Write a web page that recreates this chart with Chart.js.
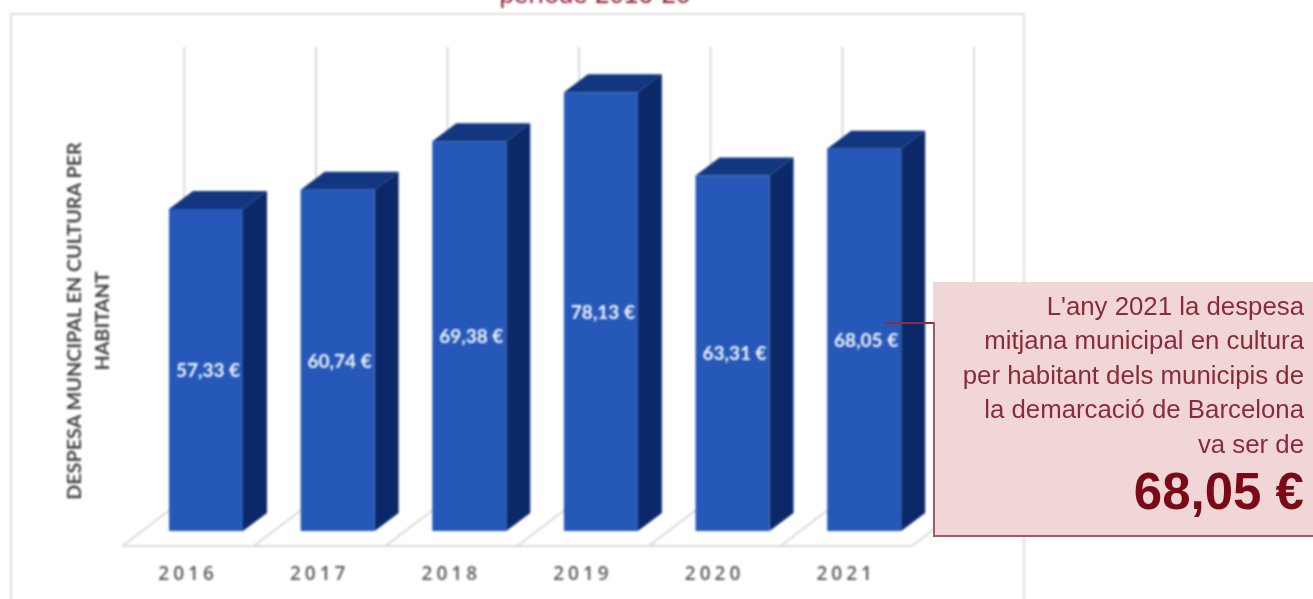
<!DOCTYPE html>
<html>
<head>
<meta charset="utf-8">
<script src="https://cdn.jsdelivr.net/npm/chart.js@4"></script>
<style>
html,body{margin:0;padding:0;background:#fff;overflow:hidden;width:1313px;height:599px}
#frame{position:absolute;left:10px;top:13px;width:1011px;height:640px;border:2px solid #dedede;filter:blur(.8px)}
#wrap{position:absolute;left:0;top:0;width:1313px;height:599px;filter:blur(1px)}
canvas{position:absolute;left:0;top:0}
#title{position:absolute;left:395px;width:400px;top:-21px;text-align:center;font:26px/30px "Liberation Sans";color:#8a1c28;filter:blur(.8px)}
#ytitle{position:absolute;left:87px;top:321px;width:420px;text-align:center;transform:translate(-210px,-50%) rotate(-90deg);font:bold 19.8px/28px Lato;color:#444;filter:blur(.8px)}
#leader{position:absolute;left:885px;top:322px;width:48px;height:1.5px;background:#8a2f40;filter:blur(.4px)}
#callout{position:absolute;left:933px;top:282px;width:380px;height:253px;background:#f1d6d8;box-sizing:border-box;filter:blur(.7px)}
#callout .l{position:absolute;right:9px;text-align:right;white-space:nowrap;font:25.8px/34px "Liberation Sans";color:#8a2c38}
#callout .big{position:absolute;right:9px;top:180px;white-space:nowrap;font:bold 51px/60px "Liberation Sans";color:#7a0a16}
#cl1{position:absolute;left:933px;top:322px;width:1.5px;height:214px;background:#a45a62;filter:blur(.4px)}
#cl2{position:absolute;left:933px;top:534.5px;width:380px;height:2px;background:#a45a62;filter:blur(.4px)}
</style>
</head>
<body>
<div id="frame"></div>
<div id="title">període 2016-20</div>
<div id="ytitle">DESPESA MUNCIPAL EN CULTURA PER<br>HABITANT</div>
<div id="wrap"><canvas id="c" width="1313" height="599"></canvas></div>
<div id="callout">
  <div class="l" style="top:7px">L'any 2021 la despesa</div>
  <div class="l" style="top:41px">mitjana municipal en cultura</div>
  <div class="l" style="top:76px">per habitant dels municipis de</div>
  <div class="l" style="top:110px">la demarcació de Barcelona</div>
  <div class="l" style="top:145px">va ser de</div>
  <div class="big">68,05 €</div>
</div>
<div id="cl1"></div><div id="cl2"></div><div id="leader"></div>
<script>
const years = ['2016','2017','2018','2019','2020','2021'];
const spending = [57.33,60.74,69.38,78.13,63.31,68.05];

const fmt = v => v.toFixed(2).replace('.',',') + ' €';

const depth3d = {
  id:'depth3d',
  beforeDatasetsDraw(chart){
    const ctx = chart.ctx, x = chart.scales.x, meta = chart.getDatasetMeta(0), base = meta.data[0].base;
    const step = x.getPixelForTick(1) - x.getPixelForTick(0);
    ctx.save();
    ctx.strokeStyle = '#d9d9d9'; ctx.lineWidth = 2;
    const n = years.length;
    for(let i=0;i<=n;i++){
      const b = x.getPixelForTick(0) - step/2 + i*step;
      ctx.beginPath(); ctx.moveTo(b+44,47); ctx.lineTo(b+44,base-32); ctx.stroke();
      ctx.beginPath(); ctx.moveTo(b-18,base+15); ctx.lineTo(b+44,base-32); ctx.stroke();
    }
    const l = x.getPixelForTick(0)-step/2-18, r = l + n*step;
    ctx.beginPath(); ctx.moveTo(l,base+15); ctx.lineTo(r,base+15); ctx.stroke();
    const dx = 24, dy = 18;
    meta.data.forEach(b=>{
      const L = b.x-b.width/2, R = b.x+b.width/2, T = b.y, B = b.base;
      ctx.fillStyle = '#12367f';
      ctx.beginPath(); ctx.moveTo(L,T); ctx.lineTo(L+dx,T-dy); ctx.lineTo(R+dx,T-dy); ctx.lineTo(R,T); ctx.closePath(); ctx.fill();
      ctx.fillStyle = '#0b2869';
      ctx.beginPath(); ctx.moveTo(R,T); ctx.lineTo(R+dx,T-dy); ctx.lineTo(R+dx,B-dy); ctx.lineTo(R,B); ctx.closePath(); ctx.fill();
    });
    ctx.restore();
  },
  afterDatasetsDraw(chart){
    const ctx = chart.ctx, meta = chart.getDatasetMeta(0);
    ctx.save();
    ctx.fillStyle = '#f4f7fc'; ctx.font = 'bold 19px Lato'; ctx.textAlign='center'; ctx.textBaseline='middle';
    meta.data.forEach((b,i)=>ctx.fillText(fmt(spending[i]), b.x+2, (b.y+b.base)/2+1));
    ctx.restore();
    ctx.letterSpacing = '4px';
  },
  afterDraw(chart){ chart.ctx.letterSpacing = '0px'; }
};

new Chart(document.getElementById('c'),{
  type:'bar',
  data:{labels:years,datasets:[{data:spending,backgroundColor:'#2558b8',borderWidth:0,barPercentage:0.562,categoryPercentage:1}]},
  plugins:[depth3d],
  options:{
    responsive:false,animation:false,
    layout:{padding:{left:140.2,right:383,top:25.47,bottom:0}},
    plugins:{legend:{display:false},title:{display:false},tooltip:{enabled:false}},
    scales:{
      x:{
        afterFit(s){ s.height = 68; },
        grid:{display:false},border:{display:false},
        ticks:{z:1,padding:24,labelOffset:-18,maxRotation:0,color:'#5a5a5a',font:{family:'"Open Sans"',size:19,weight:'600'}}
      },
      y:{display:false,min:0,max:90}
    }
  }
});
</script>
</body>
</html>
